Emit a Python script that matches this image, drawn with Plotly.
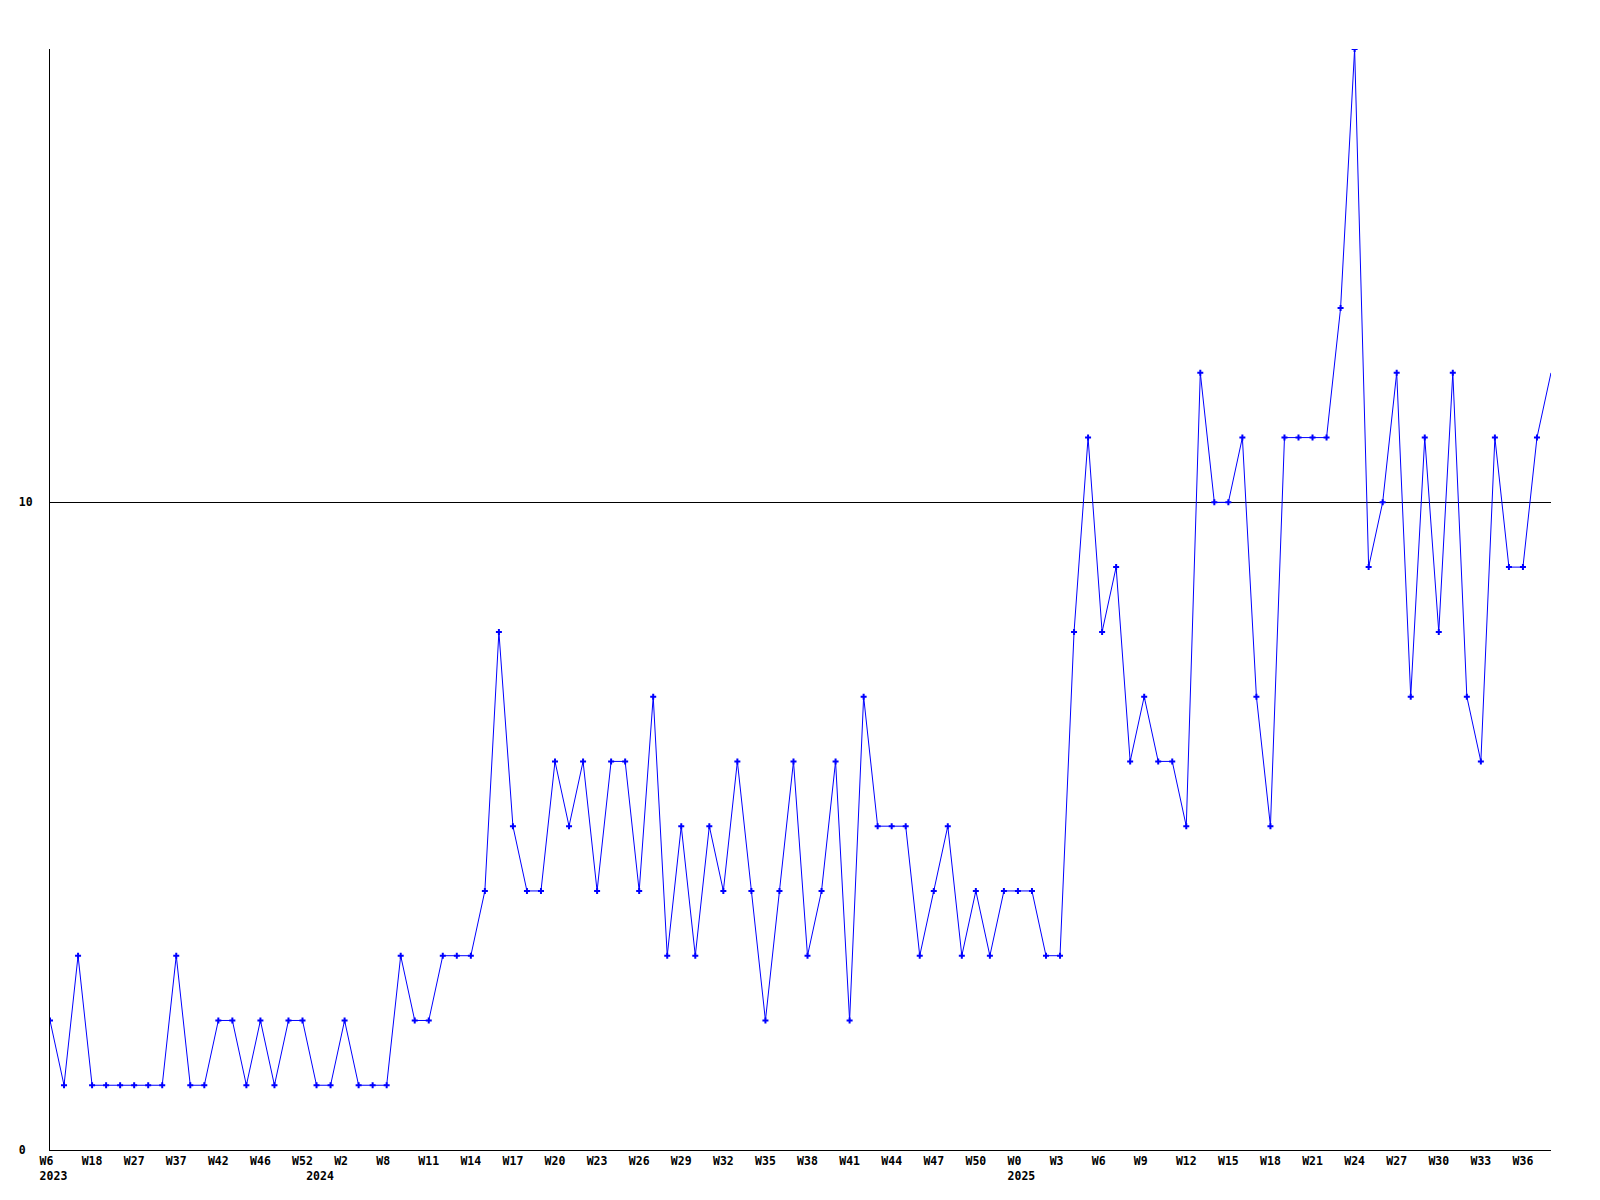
import plotly.graph_objects as go

# weekly counts, one value per point
values = [2, 1, 3, 1, 1, 1, 1, 1, 1, 3, 1, 1, 2, 2, 1, 2, 1, 2, 2, 1,
          1, 2, 1, 1, 1, 3, 2, 2, 3, 3, 3, 4, 8, 5, 4, 4, 6, 5, 6, 4,
          6, 6, 4, 7, 3, 5, 3, 5, 4, 6, 4, 2, 4, 6, 3, 4, 6, 2, 7, 5,
          5, 5, 3, 4, 5, 3, 4, 3, 4, 4, 4, 3, 3, 8, 11, 8, 9, 6, 7, 6,
          6, 5, 12, 10, 10, 11, 7, 5, 11, 11, 11, 11, 13, 17, 9, 10, 12, 7, 11, 8,
          12, 7, 6, 11, 9, 9, 11, 12]

# labels shown under every third point
week_labels = ['W6', 'W18', 'W27', 'W37', 'W42', 'W46', 'W52',
               'W2', 'W8', 'W11', 'W14', 'W17', 'W20', 'W23', 'W26', 'W29', 'W32',
               'W35', 'W38', 'W41', 'W44', 'W47', 'W50',
               'W0', 'W3', 'W6', 'W9', 'W12', 'W15', 'W18', 'W21', 'W24', 'W27',
               'W30', 'W33', 'W36']
label_step = 3

# first point of each year
years = ['2023', '2024', '2025']
year_idx = [0, 19, 69]

y_ticks = [0, 10]
y_ticktext = ['0\u00a0', '10']

NB = '\u00a0'
x = list(range(len(values)))

tick_map = {}
for i, w in enumerate(week_labels):
    tick_map[i * label_step] = w.ljust(3, NB)
for yr, idx in zip(years, year_idx):
    first = tick_map.get(idx, NB)
    tick_map[idx] = first + '<br>' + NB + yr
tickvals = sorted(tick_map)
ticktext = [tick_map[v] for v in tickvals]

fig = go.Figure()

fig.add_trace(
    go.Scatter(x=x, y=values, mode='lines', line=dict(color='#0000ff', width=1),
               hoverinfo='skip')
)
fig.add_trace(
    go.Scatter(x=x[:-1], y=values[:-1], mode='markers',
               marker=dict(symbol='cross', size=5, color='#0000ff', line=dict(width=0)))
)

tick_font = dict(family='DejaVu Sans Mono', size=11.5, color='black', weight='bold')

fig.update_layout(
    width=1600, height=1200,
    margin=dict(l=50, r=49, t=49, b=50),
    paper_bgcolor='white', plot_bgcolor='white',
    showlegend=False,
    xaxis=dict(range=[0, len(values) - 1], tickvals=tickvals, ticktext=ticktext,
               tickangle=0, showgrid=False, zeroline=False, showline=True,
               linecolor='black', linewidth=1, ticks='', tickfont=tick_font),
    yaxis=dict(range=[0, 17], tickvals=y_ticks, ticktext=y_ticktext,
               showgrid=True, gridcolor='black', gridwidth=1, zeroline=False,
               showline=True, linecolor='black', linewidth=1, ticks='',
               ticklabelstandoff=14, tickfont=tick_font),
)

# page body has a default 8px margin; drop it so the chart sits at 0,0
fig.write_html('out.html', config={'displayModeBar': False},
               post_script="document.body.style.margin='0';")
